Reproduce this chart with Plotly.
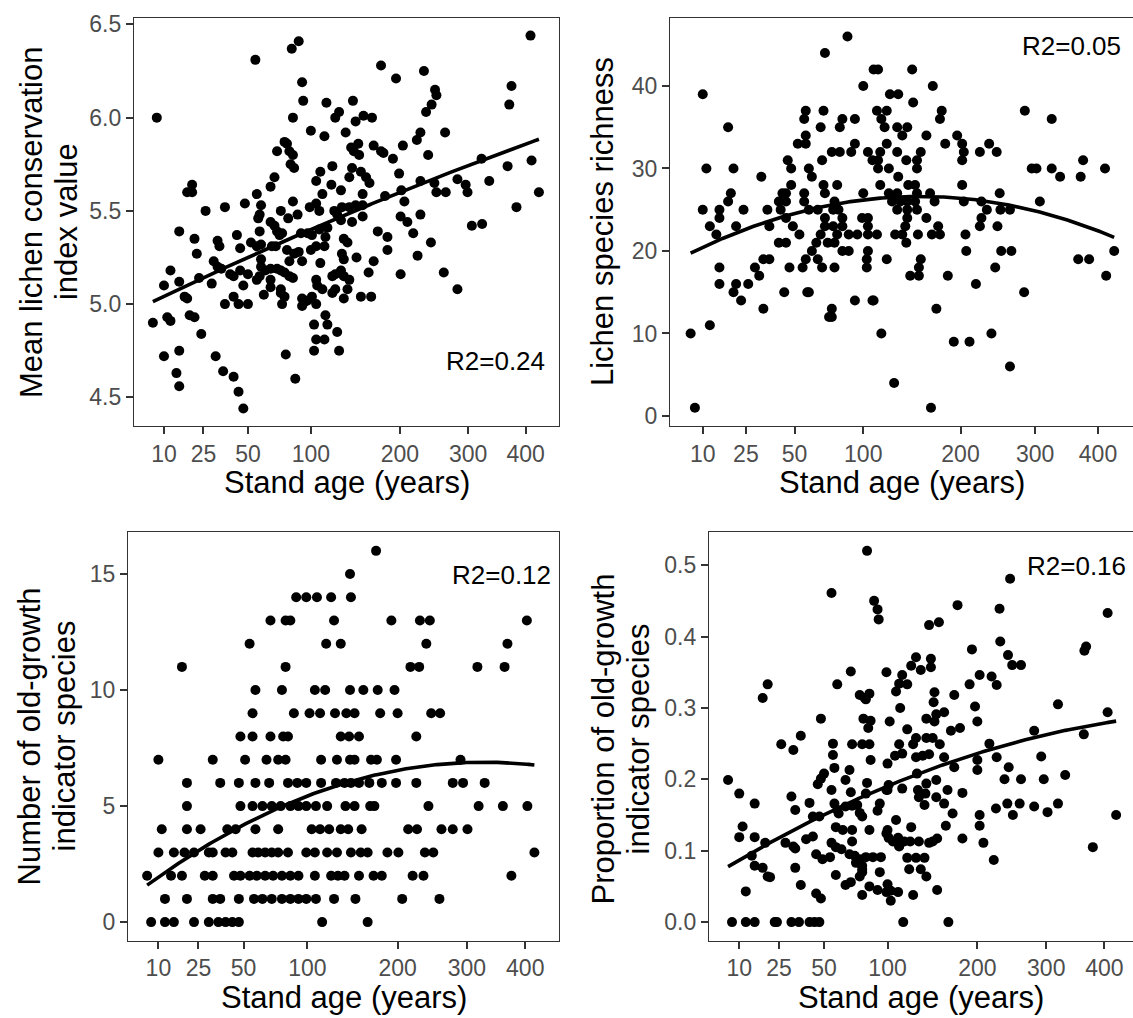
import numpy as np
import plotly.graph_objects as go

# ---------------- data ----------------
TICK_AGES = [10, 25, 50, 100, 200, 300, 400]
TICK_LABELS = ["10", "25", "50", "100", "200", "300", "400"]

# Panel A: mean lichen conservation index value
cons_age = [8, 55, 83, 89, 92, 93, 84,
            176, 195, 233, 249, 251, 244, 236, 409, 374, 370,
            115, 143, 128, 124, 146, 155, 165, 100, 113, 135, 228, 223, 264,
            77, 79, 71, 81, 84, 82, 85,
            141, 144, 149, 150, 167, 176, 179, 191, 204, 239,
            121, 109, 105, 142, 152, 139, 158, 162, 130, 120, 69, 66, 56, 199,
            322, 367, 411, 335, 283, 296, 299, 265, 251, 425, 228, 248,
            20, 18, 20, 26, 36, 48, 59, 58,
            111, 105, 99, 108, 84, 74, 88, 80,
            154, 181, 202, 206, 228, 201, 210,
            123, 131, 139, 146, 154, 126, 130, 142, 154, 306, 323, 383,
            57, 66, 69, 58, 71, 73, 75,
            15, 21, 32, 33, 43, 45, 52, 56, 59,
            91, 97, 101, 108, 114, 116, 113, 105, 100,
            172, 184, 184, 218, 243, 224,
            133, 137, 131, 133, 147, 167, 161, 22, 30, 32, 34,
            67, 70, 79, 85, 89, 92, 81,
            59, 59, 62, 66, 71, 74, 77, 81, 84, 58, 56, 66, 66, 74,
            12, 10, 15, 23, 29, 39, 41, 45, 50, 47,
            109, 105, 106, 111, 121, 124, 130, 133, 139, 137, 124, 121, 133,
            201, 262, 283, 152, 164,
            17, 18, 41, 36, 44, 50, 61, 74, 77, 75,
            92, 94, 97, 101, 105, 92,
            7, 11, 12, 19, 21, 24,
            103, 114, 116, 126, 105, 113, 103, 128,
            10, 15, 31, 78, 14, 15, 35, 41, 44, 47, 86]
cons_val = [6.00, 6.31, 6.37, 6.41, 6.19, 6.09, 6.00,
            6.28, 6.21, 6.25, 6.15, 6.12, 6.07, 6.03, 6.44, 6.17, 6.07,
            6.08, 6.09, 6.03, 6.00, 5.98, 6.01, 6.00, 5.93, 5.90, 5.92, 5.92, 5.88, 5.92,
            5.87, 5.86, 5.82, 5.82, 5.80, 5.75, 5.73,
            5.84, 5.82, 5.86, 5.80, 5.85, 5.82, 5.81, 5.78, 5.85, 5.80,
            5.74, 5.71, 5.66, 5.73, 5.71, 5.68, 5.68, 5.65, 5.61, 5.64, 5.68, 5.63, 5.59, 5.70,
            5.78, 5.74, 5.77, 5.66, 5.67, 5.64, 5.60, 5.60, 5.60, 5.60, 5.66, 5.65,
            5.64, 5.60, 5.60, 5.50, 5.52, 5.54, 5.53, 5.48,
            5.59, 5.54, 5.52, 5.50, 5.55, 5.50, 5.48, 5.46,
            5.59, 5.58, 5.61, 5.55, 5.48, 5.47, 5.44,
            5.50, 5.52, 5.52, 5.53, 5.53, 5.48, 5.45, 5.44, 5.47, 5.42, 5.43, 5.52,
            5.46, 5.44, 5.42, 5.39, 5.39, 5.37, 5.38,
            5.39, 5.35, 5.34, 5.31, 5.37, 5.30, 5.33, 5.31, 5.32,
            5.38, 5.38, 5.37, 5.40, 5.36, 5.41, 5.31, 5.31, 5.29,
            5.39, 5.36, 5.29, 5.38, 5.33, 5.26,
            5.35, 5.33, 5.27, 5.24, 5.25, 5.23, 5.17, 5.27, 5.23, 5.20, 5.19,
            5.31, 5.31, 5.29, 5.27, 5.28, 5.23, 5.23,
            5.24, 5.20, 5.18, 5.19, 5.19, 5.18, 5.17, 5.15, 5.14, 5.15, 5.13, 5.13, 5.09, 5.08,
            5.18, 5.10, 5.12, 5.14, 5.11, 5.16, 5.15, 5.18, 5.16, 5.10,
            5.22, 5.13, 5.10, 5.08, 5.15, 5.16, 5.18, 5.15, 5.13, 5.08, 5.08, 5.06, 5.03,
            5.16, 5.17, 5.08, 5.04, 5.04,
            5.04, 5.03, 5.04, 5.00, 5.00, 5.00, 5.05, 5.06, 5.04, 5.00,
            5.03, 5.01, 5.02, 5.04, 5.00, 4.99,
            4.90, 4.93, 4.91, 4.94, 4.93, 4.84,
            4.89, 4.94, 4.89, 4.85, 4.81, 4.81, 4.75, 4.75,
            4.72, 4.75, 4.72, 4.73, 4.63, 4.56, 4.64, 4.61, 4.53, 4.44, 4.60]

# Panel B: lichen species richness
rich_age = [87, 70, 109, 113, 146, 100, 168, 124, 132, 147,
            10, 18,
            57, 56, 69, 83, 81, 93, 67, 57, 52, 57,
            112, 121, 116, 119, 131, 141, 136, 161,
            178, 176, 182, 196, 202, 204, 202,
            285, 325,
            93, 90, 75, 81, 68, 104, 115, 108, 113, 121, 131, 140, 151, 155, 151, 123, 113, 132,
            46, 48, 59, 61, 69, 79, 70,
            224, 236, 246,
            11, 20, 32,
            295, 302, 325, 338, 375, 371, 412,
            19, 18, 10, 15, 15, 12, 14, 24, 21,
            35, 36, 41, 43, 45, 45, 48, 42, 45, 49, 53, 41, 45,
            56, 56, 65, 59, 77, 76, 80, 83, 70, 70, 76, 83, 79, 88, 95, 67, 64, 72, 77, 83, 88, 61,
            57, 65, 68, 77, 55, 47,
            100, 99, 104, 104, 104, 112, 115, 123, 131, 126, 134, 142, 149, 151, 141, 149, 165, 170,
            131, 141, 151, 141, 139, 136, 129, 140, 152, 161, 174, 167, 176,
            121, 104, 103, 103, 155, 153, 144, 153,
            202, 204, 226, 233, 226, 224, 247, 251, 264, 250, 206, 207, 252, 266, 244, 307,
            15, 15, 21, 20, 23, 26, 29, 31, 33, 36, 33,
            44, 58, 59,
            93, 108, 109, 75, 73, 75,
            185, 172, 219, 284,
            367, 385, 428, 414,
            7, 12, 116, 192, 211, 239, 264, 128, 8, 166]
rich_val = [46, 44, 42, 42, 42, 40, 40, 39, 39, 38,
            39, 35,
            37, 36, 37, 36, 35, 36, 35, 34, 33, 33,
            37, 37, 36, 35, 35, 35, 34, 34,
            37, 36, 33, 34, 33, 32, 31,
            37, 36,
            33, 32, 32, 32, 31, 32, 32, 31, 31, 33, 32, 31, 31, 32, 30, 30, 30, 29,
            31, 30, 30, 29, 28, 28, 27,
            32, 33, 32,
            30, 30, 29,
            30, 30, 30, 29, 31, 29, 30,
            27, 26, 25, 25, 24, 23, 22, 25, 23,
            25, 23, 26, 27, 26, 27, 28, 25, 24, 23, 22, 21, 21,
            27, 26, 25, 25, 26, 25, 25, 24, 24, 23, 23, 23, 22, 22, 22, 22, 21, 21, 21, 20, 20, 20,
            19, 19, 18, 18, 18, 18,
            27, 24, 24, 23, 22, 22, 28, 27, 27, 26, 26, 28, 28, 27, 26, 26, 27, 26,
            25, 25, 25, 24, 23, 22, 22, 21, 22, 24, 23, 22, 22,
            19, 20, 19, 18, 19, 18, 17, 17,
            28, 26, 26, 25, 24, 23, 23, 25, 25, 27, 22, 20, 20, 20, 18, 26,
            18, 16, 16, 15, 14, 16, 18, 17, 19, 19, 13,
            15, 15, 15,
            14, 14, 14, 13, 12, 12,
            17, 13, 16, 15,
            19, 19, 20, 17,
            10, 11, 10, 9, 9, 10, 6, 4, 1, 1]

# Panel C: number of old-growth indicator species
og_n_age = [173,
            143,
            90, 99, 109, 123, 144,
            69, 81, 85, 126, 192, 230, 244, 403,
            54, 118, 133, 239, 368,
            18, 81, 217, 229, 317, 363,
            58, 78, 107, 117, 143, 158, 175, 196,
            56, 88, 102, 112, 127, 139, 148, 178, 200, 246, 259,
            48, 56, 69, 79, 83, 133, 142, 153, 225,
            10, 32, 51, 66, 75, 81, 113, 129, 143, 148, 167, 174, 198, 290,
            20, 36, 47, 58, 68, 83, 91, 99, 113, 128, 137, 144, 153, 165, 180, 198, 225, 278, 294, 329,
            20, 48, 56, 63, 70, 77, 85, 92, 99, 108, 119, 138, 148, 166, 171, 242, 319, 360, 404,
            11, 20, 26, 40, 45, 58, 75, 104, 112, 121, 133, 141, 156, 214, 226, 261, 278, 301,
            10, 15, 19, 23, 30, 32, 39, 43, 56, 60, 65, 70, 75, 83, 99, 107, 119, 129, 144, 155,
            163, 187, 201, 237, 249, 417,
            7, 14, 18, 28, 32, 44, 48, 54, 59, 65, 71, 78, 85, 92, 107, 123, 130, 137, 153, 170,
            180, 220, 235, 375,
            12, 20, 32, 36, 47, 57, 63, 70, 78, 85, 92, 99, 108, 126, 149, 206, 258,
            8, 12, 15, 23, 30, 35, 39, 43, 47, 114, 163]
og_n_val = [16,
            15,
            14, 14, 14, 14, 14,
            13, 13, 13, 13, 13, 13, 13, 13,
            12, 12, 12, 12, 12,
            11, 11, 11, 11, 11, 11,
            10, 10, 10, 10, 10, 10, 10, 10,
            9, 9, 9, 9, 9, 9, 9, 9, 9, 9, 9,
            8, 8, 8, 8, 8, 8, 8, 8, 8,
            7, 7, 7, 7, 7, 7, 7, 7, 7, 7, 7, 7, 7, 7,
            6, 6, 6, 6, 6, 6, 6, 6, 6, 6, 6, 6, 6, 6, 6, 6, 6, 6, 6, 6,
            5, 5, 5, 5, 5, 5, 5, 5, 5, 5, 5, 5, 5, 5, 5, 5, 5, 5, 5,
            4, 4, 4, 4, 4, 4, 4, 4, 4, 4, 4, 4, 4, 4, 4, 4, 4, 4,
            3, 3, 3, 3, 3, 3, 3, 3, 3, 3, 3, 3, 3, 3, 3, 3, 3, 3, 3, 3,
            3, 3, 3, 3, 3, 3,
            2, 2, 2, 2, 2, 2, 2, 2, 2, 2, 2, 2, 2, 2, 2, 2, 2, 2, 2, 2,
            2, 2, 2, 2,
            1, 1, 1, 1, 1, 1, 1, 1, 1, 1, 1, 1, 1, 1, 1, 1, 1,
            0, 0, 0, 0, 0, 0, 0, 0, 0, 0, 0]
# fitted trend of panel C (overlapping points hide part of the data)
og_n_trend_age = [7, 10.5, 21, 42, 83, 144, 288, 418]
og_n_trend_val = [1.45, 2.0, 3.0, 4.0, 5.0, 6.0, 6.9, 6.77]

# Panel D: proportion of old-growth indicator species
og_p_age = [82, 55, 88, 91, 92, 175, 230, 245, 406,
            142, 153, 231, 193, 242, 248, 261, 364, 367,
            128, 123, 133, 144, 144, 99, 69, 59, 114, 111, 108, 119, 203, 219, 226, 190, 171, 148, 147,
            20, 18,
            76, 80, 84, 81, 112, 197, 200, 319, 406,
            48, 79, 85, 83, 102, 139, 150, 159, 148, 167, 178, 119, 128, 139, 146, 154, 281, 363,
            26, 36, 32, 56, 70, 78, 84, 56, 85, 100, 107, 114, 111, 125, 128, 135, 142, 159, 171,
            216, 226, 243, 200, 200, 292, 331,
            50, 48, 46, 57, 55, 65, 68, 69, 82, 101, 100, 99, 114, 129, 130, 139, 138, 150, 150,
            159, 163, 181, 237, 261, 296,
            7, 10, 15, 31, 33, 41, 43, 47, 57, 59, 60, 65, 70, 74, 76, 81, 93, 91, 131, 137,
            225, 241, 249, 259, 281, 302, 319, 422,
            169, 161, 203, 203, 208, 222, 379, 181, 151,
            11, 10, 15, 19, 28, 32, 39, 43, 33,
            58, 63, 70, 70, 78, 84, 55, 58, 62, 68, 72, 73, 76, 78,
            108, 100, 99, 101, 105, 110, 116, 111, 123, 122, 131, 142, 146, 111,
            45, 49, 54, 81, 87, 94, 119, 128, 137, 121, 133, 139,
            14, 15, 18, 20, 21, 33, 36, 12,
            58, 65, 69, 76, 78, 78, 93, 84, 91, 100, 103, 99, 110, 103, 78, 45, 48, 125, 151,
            8, 12, 15, 23, 24, 31, 35, 41, 44, 47, 115, 164]
og_p_val = [0.520, 0.461, 0.450, 0.438, 0.424, 0.444, 0.439, 0.481, 0.433,
            0.416, 0.420, 0.393, 0.382, 0.374, 0.360, 0.360, 0.380, 0.386,
            0.371, 0.359, 0.353, 0.369, 0.357, 0.350, 0.351, 0.333, 0.346, 0.334, 0.323, 0.333,
            0.346, 0.344, 0.332, 0.333, 0.318, 0.322, 0.308,
            0.333, 0.314,
            0.318, 0.314, 0.320, 0.312, 0.300, 0.302, 0.281, 0.305, 0.294,
            0.285, 0.285, 0.282, 0.272, 0.281, 0.285, 0.291, 0.294, 0.281, 0.268, 0.272, 0.270,
            0.258, 0.258, 0.258, 0.249, 0.268, 0.263,
            0.249, 0.261, 0.241, 0.250, 0.249, 0.249, 0.249, 0.234, 0.227, 0.222, 0.233, 0.236,
            0.249, 0.249, 0.231, 0.233, 0.235, 0.231, 0.217,
            0.250, 0.231, 0.217, 0.227, 0.213, 0.232, 0.206,
            0.208, 0.201, 0.193, 0.216, 0.185, 0.199, 0.213, 0.182, 0.195, 0.192, 0.185, 0.185,
            0.187, 0.208, 0.185, 0.194, 0.180, 0.199, 0.175,
            0.166, 0.185, 0.181, 0.200, 0.200, 0.200,
            0.199, 0.180, 0.166, 0.176, 0.157, 0.167, 0.148, 0.148, 0.166, 0.157, 0.152, 0.162,
            0.163, 0.164, 0.153, 0.180, 0.166, 0.156, 0.175, 0.164,
            0.159, 0.166, 0.150, 0.166, 0.162, 0.154, 0.166, 0.150,
            0.152, 0.135, 0.150, 0.135, 0.111, 0.087, 0.105, 0.117, 0.117,
            0.134, 0.119, 0.119, 0.111, 0.111, 0.106, 0.116, 0.120, 0.103,
            0.133, 0.129, 0.129, 0.113, 0.148, 0.129, 0.111, 0.105, 0.102, 0.095, 0.093, 0.083,
            0.088, 0.079,
            0.143, 0.129, 0.124, 0.118, 0.113, 0.118, 0.113, 0.107, 0.133, 0.113, 0.113, 0.111,
            0.113, 0.106,
            0.095, 0.088, 0.091, 0.091, 0.091, 0.091, 0.090, 0.090, 0.090, 0.074, 0.074, 0.064,
            0.093, 0.079, 0.076, 0.064, 0.063, 0.076, 0.052, 0.043,
            0.066, 0.052, 0.056, 0.064, 0.070, 0.074, 0.070, 0.050, 0.045, 0.053, 0.044, 0.042,
            0.042, 0.030, 0.038, 0.040, 0.033, 0.038, 0.045,
            0.0, 0.0, 0.0, 0.0, 0.0, 0.0, 0.0, 0.0, 0.0, 0.0, 0.0, 0.0]

r2_labels = ["R2=0.24", "R2=0.05", "R2=0.12", "R2=0.16"]

# ---------------- layout ----------------
W, H = 1133, 1018
FONT = "Liberation Sans, Arial, sans-serif"


def fx(p):
    return p / W


def fy(p):
    return 1 - p / H


panels = [
    dict(age=cons_age, val=cons_val, trend=None, px=(134, 559), py=(12, 424),
         xr=(1.767, 21.55), yr=(4.345, 6.535), yt=[4.5, 5.0, 5.5, 6.0, 6.5],
         ytxt=["4.5", "5.0", "5.5", "6.0", "6.5"], r2=(547, 358), mirror=True),
    dict(age=rich_age, val=rich_val, trend=None, px=(670, 1133), py=(12, 424),
         xr=(1.767, 21.49), yr=(-1.25, 48.25), yt=[0, 10, 20, 30, 40],
         ytxt=["0", "10", "20", "30", "40"], r2=(1123, 40), mirror=False),
    dict(age=og_n_age, val=og_n_val, trend=(og_n_trend_age, og_n_trend_val),
         px=(128, 559), py=(531, 943), xr=(1.767, 21.55), yr=(-0.8, 16.8),
         yt=[0, 5, 10, 15], ytxt=["0", "5", "10", "15"], r2=(553, 574), mirror=True),
    dict(age=og_p_age, val=og_p_val, trend=None, px=(709, 1133), py=(531, 943),
         xr=(1.767, 21.32), yr=(-0.026, 0.546), yt=[0, 0.1, 0.2, 0.3, 0.4, 0.5],
         ytxt=["0.0", "0.1", "0.2", "0.3", "0.4", "0.5"], r2=(1128, 565), mirror=False),
]

fig = go.Figure()
annotations = []

for i, p in enumerate(panels):
    k = "" if i == 0 else str(i + 1)
    xa, ya = "x" + k, "y" + k
    s = np.sqrt(np.array(p["age"], dtype=float))
    v = np.array(p["val"], dtype=float)
    fig.add_trace(go.Scatter(x=s, y=v, mode="markers", xaxis=xa, yaxis=ya,
                             marker=dict(size=10, color="black"), showlegend=False,
                             hoverinfo="skip"))
    # quadratic smooth on the square-root age scale
    if p["trend"] is None:
        coef = np.polyfit(s, v, 2)
    else:
        coef = np.polyfit(np.sqrt(np.array(p["trend"][0], dtype=float)),
                          np.array(p["trend"][1], dtype=float), 2)
    sg = np.linspace(s.min(), s.max(), 200)
    fig.add_trace(go.Scatter(x=sg, y=np.polyval(coef, sg), mode="lines", xaxis=xa, yaxis=ya,
                             line=dict(color="black", width=3.6), showlegend=False,
                             hoverinfo="skip"))
    common = dict(showgrid=False, zeroline=False, showline=True, linecolor="#333333",
                  linewidth=1.3, ticks="outside", ticklen=7, tickwidth=2,
                  tickcolor="#333333",
                  tickfont=dict(family=FONT, size=23, color="#4D4D4D"))
    fig.layout["xaxis" + k] = dict(
        domain=[fx(p["px"][0]), fx(p["px"][1])], range=list(p["xr"]), anchor=ya,
        tickvals=list(np.sqrt(TICK_AGES)), ticktext=TICK_LABELS, mirror=True, **common)
    fig.layout["yaxis" + k] = dict(
        domain=[fy(p["py"][1]), fy(p["py"][0])], range=list(p["yr"]), anchor=xa,
        tickvals=p["yt"], ticktext=p["ytxt"], mirror=p["mirror"], **common)
    annotations.append(dict(text=r2_labels[i], xref="paper", yref="paper",
                            x=fx(p["r2"][0]), y=fy(p["r2"][1]), xanchor="right",
                            yanchor="middle", showarrow=False,
                            font=dict(family=FONT, size=26, color="black")))
    cx = (p["px"][0] + p["px"][1]) / 2
    annotations.append(dict(text="Stand age (years)", xref="paper", yref="paper",
                            x=fx(cx), y=fy(p["py"][1] + 57), xanchor="center",
                            yanchor="middle", showarrow=False,
                            font=dict(family=FONT, size=31, color="black")))

ytitles = [
    (31, 218, "Mean lichen conservation"), (66, 218, "index value"),
    (602, 218, "Lichen species richness"),
    (29, 737, "Number of old-growth"), (64, 737, "indicator species"),
    (603, 740, "Proportion of old-growth"), (638, 740, "indicator species"),
]
for x, y, t in ytitles:
    annotations.append(dict(text=t, xref="paper", yref="paper", x=fx(x), y=fy(y),
                            xanchor="center", yanchor="middle", textangle=-90,
                            showarrow=False,
                            font=dict(family=FONT, size=31, color="black")))

fig.update_layout(width=W, height=H, margin=dict(l=0, r=0, t=0, b=0),
                  paper_bgcolor="white", plot_bgcolor="white",
                  annotations=annotations, showlegend=False)

fig.write_html(
    "out.html",
    config={"displayModeBar": False},
    post_script=("document.documentElement.style.margin='0';"
                 "document.body.style.margin='0';document.body.style.padding='0';"
                 "document.documentElement.style.overflow='hidden';"
                 "document.body.style.overflow='hidden';"),
)
